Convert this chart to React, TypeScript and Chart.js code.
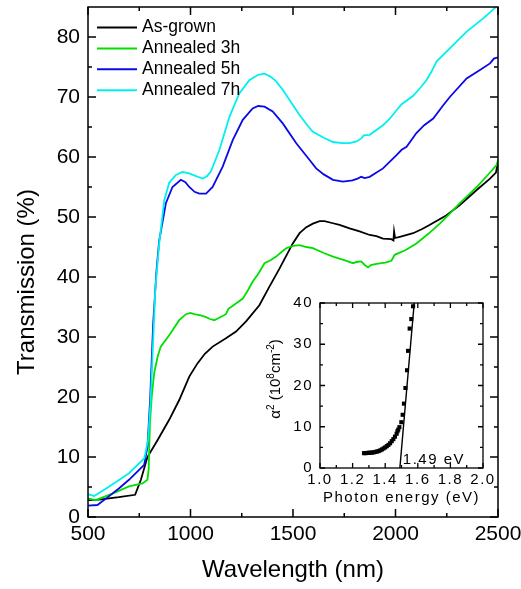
import { useEffect, useRef } from "react";
import { Chart, registerables } from "chart.js";

Chart.register(...registerables);

const FONT = "'Liberation Sans', Arial, Helvetica, sans-serif";

// ---- Transmission spectra ----
const seriesLabels = ["As-grown", "Annealed 3h", "Annealed 5h", "Annealed 7h"];
const seriesColors = ["#000000", "#00e000", "#0a0ae6", "#00f0f0"];

const asGrownNm = [500, 554, 650, 730, 758, 790, 839, 896, 945, 994, 1034, 1070, 1108, 1173, 1222, 1271, 1336, 1385, 1434, 1499, 1532, 1565, 1597, 1630, 1654, 1690, 1727, 1776, 1825, 1874, 1907, 1939, 1980, 1990, 1993, 1998, 2021, 2086, 2130, 2168, 2249, 2314, 2396, 2461, 2490, 2500];
const asGrownT = [2.8, 2.9, 3.3, 3.7, 6.2, 10.0, 12.8, 16.2, 19.5, 23.4, 25.6, 27.2, 28.4, 29.8, 30.9, 32.6, 35.3, 38.4, 41.4, 45.6, 47.3, 48.3, 48.9, 49.3, 49.3, 49.0, 48.7, 48.1, 47.6, 47.0, 46.8, 46.4, 46.3, 46.1, 47.6, 46.5, 46.7, 47.3, 48.0, 48.7, 50.3, 52.0, 54.5, 56.4, 57.4, 59.2];

const annealed3Nm = [500, 537, 619, 700, 766, 790, 796, 802, 812, 823, 840, 855, 896, 945, 978, 1000, 1018, 1050, 1076, 1095, 1116, 1140, 1173, 1185, 1198, 1230, 1255, 1280, 1303, 1330, 1361, 1390, 1418, 1445, 1467, 1500, 1532, 1565, 1597, 1650, 1695, 1750, 1793, 1810, 1833, 1850, 1866, 1880, 1907, 1950, 1980, 1996, 2050, 2102, 2160, 2216, 2260, 2314, 2360, 2396, 2450, 2494, 2500];
const annealed3T = [3.1, 2.8, 3.9, 5.1, 5.6, 6.2, 8.0, 15.6, 20.5, 24.0, 26.8, 28.4, 30.3, 32.8, 33.8, 34.0, 33.8, 33.6, 33.3, 33.0, 32.8, 33.2, 33.8, 34.7, 35.0, 35.8, 36.4, 37.8, 39.2, 40.5, 42.3, 42.8, 43.4, 44.2, 44.8, 45.2, 45.3, 45.0, 44.8, 44.0, 43.4, 42.8, 42.3, 42.5, 42.6, 42.0, 41.6, 42.0, 42.2, 42.4, 42.7, 43.7, 44.5, 45.6, 47.2, 48.9, 50.4, 52.3, 53.8, 55.0, 57.0, 58.7, 59.5];

const annealed5Nm = [500, 546, 600, 652, 700, 774, 790, 803, 818, 834, 847, 880, 912, 953, 975, 994, 1020, 1043, 1076, 1108, 1157, 1206, 1255, 1303, 1330, 1361, 1401, 1450, 1516, 1581, 1613, 1650, 1695, 1744, 1790, 1815, 1833, 1850, 1874, 1939, 2005, 2030, 2054, 2102, 2140, 2184, 2230, 2265, 2347, 2412, 2461, 2480, 2500];
const annealed5T = [1.9, 2.0, 3.4, 4.8, 6.2, 8.7, 11.7, 19.5, 32.3, 41.0, 46.0, 52.3, 55.0, 56.2, 55.8, 55.0, 54.2, 53.9, 53.9, 55.0, 58.4, 62.8, 66.2, 68.1, 68.5, 68.4, 67.6, 65.6, 62.3, 59.5, 58.1, 57.1, 56.2, 55.9, 56.1, 56.4, 56.7, 56.5, 56.7, 58.1, 60.3, 61.2, 61.7, 64.0, 65.3, 66.4, 68.5, 70.0, 73.1, 74.5, 75.6, 76.4, 76.6];

const annealed7Nm = [500, 530, 600, 700, 775, 793, 805, 815, 828, 847, 872, 896, 929, 960, 990, 1027, 1059, 1080, 1100, 1141, 1190, 1238, 1287, 1330, 1361, 1390, 1418, 1450, 1483, 1532, 1565, 1597, 1650, 1695, 1740, 1776, 1810, 1833, 1845, 1874, 1939, 1970, 2005, 2030, 2086, 2120, 2151, 2175, 2200, 2265, 2347, 2428, 2500];
const annealed7T = [3.8, 3.5, 5.0, 7.3, 9.8, 12.8, 19.0, 27.0, 37.8, 45.5, 52.8, 55.7, 57.0, 57.5, 57.3, 56.8, 56.4, 56.8, 57.6, 61.2, 66.7, 70.6, 72.8, 73.7, 73.9, 73.4, 72.6, 71.2, 69.5, 67.0, 65.5, 64.2, 63.2, 62.5, 62.3, 62.3, 62.6, 63.1, 63.6, 63.7, 65.3, 66.3, 67.8, 68.8, 70.2, 71.5, 72.8, 74.2, 75.9, 78.1, 80.9, 83.1, 85.3];

const wavelengthSets = [asGrownNm, annealed3Nm, annealed5Nm, annealed7Nm];
const transmissionSets = [asGrownT, annealed3T, annealed5T, annealed7T];

const xTicks = [500, 1000, 1500, 2000, 2500];
const xMinorTicks = [750, 1250, 1750, 2250];
const yTicks = [0, 10, 20, 30, 40, 50, 60, 70, 80];
const yMinorTicks = [5, 15, 25, 35, 45, 55, 65, 75];

// ---- Inset: alpha^2 vs photon energy ----
const photonEnergy = [1.27, 1.28, 1.29, 1.30, 1.31, 1.32, 1.33, 1.34, 1.35, 1.36, 1.37, 1.38, 1.39, 1.40, 1.41, 1.42, 1.43, 1.44, 1.45, 1.46, 1.47, 1.475, 1.48, 1.487, 1.499, 1.507, 1.515, 1.524, 1.534, 1.540, 1.550, 1.560, 1.571];
const alphaSquared = [3.6, 3.6, 3.65, 3.7, 3.7, 3.75, 3.8, 3.9, 4.0, 4.1, 4.3, 4.5, 4.75, 5.0, 5.3, 5.6, 6.0, 6.5, 7.0, 7.6, 8.3, 8.9, 9.3, 9.9, 11.1, 12.9, 15.6, 19.4, 23.7, 28.4, 33.8, 36.1, 39.2];
const fitEnergy = [1.49, 1.578];
const fitAlphaSquared = [0, 40];
const bandGapEv = 1.49;

const insetXTicks = [1.0, 1.2, 1.4, 1.6, 1.8, 2.0];
const insetXMinorTicks = [1.1, 1.3, 1.5, 1.7, 1.9];
const insetYTicks = [0, 10, 20, 30, 40];
const insetYMinorTicks = [5, 15, 25, 35];

// Box frame with inward major/minor ticks on all four sides
const frameTicks = {
  id: "frameTicks",
  afterDatasetsDraw(chart: any, _args: any, o: any) {
    const { ctx, chartArea: a } = chart;
    const xs = chart.scales.x;
    const ys = chart.scales.y;
    ctx.save();
    ctx.strokeStyle = "#000";
    ctx.lineWidth = o.lineWidth;
    ctx.beginPath();
    const onX = (vals: number[], len: number) => {
      for (const v of vals) {
        const p = xs.getPixelForValue(v);
        ctx.moveTo(p, a.bottom);
        ctx.lineTo(p, a.bottom - len);
        ctx.moveTo(p, a.top);
        ctx.lineTo(p, a.top + len);
      }
    };
    const onY = (vals: number[], len: number) => {
      for (const v of vals) {
        const p = ys.getPixelForValue(v);
        ctx.moveTo(a.left, p);
        ctx.lineTo(a.left + len, p);
        ctx.moveTo(a.right, p);
        ctx.lineTo(a.right - len, p);
      }
    };
    onX(o.xMajor, o.major);
    onX(o.xMinor, o.minor);
    onY(o.yMajor, o.major);
    onY(o.yMinor, o.minor);
    ctx.stroke();
    ctx.strokeRect(a.left, a.top, a.right - a.left, a.bottom - a.top);
    ctx.restore();
  },
};

// Legend drawn inside the plot area
const insideLegend = {
  id: "insideLegend",
  afterDraw(chart: any, _args: any, o: any) {
    if (!o || !o.display) return;
    const { ctx } = chart;
    ctx.save();
    ctx.font = `${o.size}px ${FONT}`;
    ctx.textBaseline = "middle";
    ctx.textAlign = "left";
    chart.data.datasets.forEach((ds: any, i: number) => {
      const y = o.y + i * o.step;
      ctx.strokeStyle = ds.borderColor;
      ctx.lineWidth = 2;
      ctx.beginPath();
      ctx.moveTo(o.x, y);
      ctx.lineTo(o.x + o.lineLength, y);
      ctx.stroke();
      ctx.fillStyle = "#000";
      ctx.fillText(ds.label, o.x + o.lineLength + o.gap, y);
    });
    ctx.restore();
  },
};

// Rotated side title made of plain and superscript pieces
const sideTitle = {
  id: "sideTitle",
  afterDraw(chart: any, _args: any, o: any) {
    if (!o || !o.parts) return;
    const { ctx } = chart;
    ctx.save();
    ctx.letterSpacing = "0px";
    ctx.fillStyle = "#000";
    ctx.textBaseline = "alphabetic";
    ctx.textAlign = "left";
    const supSize = Math.round(o.size * 0.65);
    const widthOf = (p: any) => {
      ctx.font = `${p.sup ? supSize : o.size}px ${FONT}`;
      return ctx.measureText(p.t).width;
    };
    const total = o.parts.reduce((s: number, p: any) => s + widthOf(p), 0);
    ctx.translate(o.x, o.y);
    ctx.rotate(-Math.PI / 2);
    let cx = -total / 2;
    const base = o.size * 0.35;
    for (const p of o.parts) {
      ctx.font = `${p.sup ? supSize : o.size}px ${FONT}`;
      ctx.fillText(p.t, cx, p.sup ? base - o.size * 0.42 : base);
      cx += ctx.measureText(p.t).width;
    }
    ctx.restore();
  },
};

// Letter spacing for the inset's lettering
const spacedText = {
  id: "spacedText",
  beforeDraw(chart: any, _args: any, o: any) {
    chart.ctx.letterSpacing = o && o.spacing ? o.spacing : "0px";
  },
};

// Band-gap value written next to the fitted line
const gapNote = {
  id: "gapNote",
  afterDraw(chart: any, _args: any, o: any) {
    if (!o || !o.text) return;
    const { ctx } = chart;
    ctx.save();
    ctx.letterSpacing = "1.5px";
    ctx.font = `${o.size}px ${FONT}`;
    ctx.fillStyle = "#000";
    ctx.textAlign = "left";
    ctx.textBaseline = "middle";
    ctx.fillText(o.text, chart.scales.x.getPixelForValue(o.x), chart.scales.y.getPixelForValue(o.y));
    ctx.restore();
  },
};

const noGrid = { display: false, drawTicks: false };
const noBorder = { display: false };

const fixHeight = (h: number) => (s: any) => {
  s.height = h;
  s.paddingLeft = 0;
  s.paddingRight = 0;
  s.paddingTop = 0;
  s.paddingBottom = 0;
};
const fixWidth = (w: number) => (s: any) => {
  s.width = w;
  s.paddingLeft = 0;
  s.paddingRight = 0;
  s.paddingTop = 0;
  s.paddingBottom = 0;
};
const plainNumber = (v: number) => String(v);

function mainConfig(): any {
  return {
    type: "line",
    data: {
      datasets: seriesLabels.map((label, i) => ({
        label,
        data: wavelengthSets[i].map((x, k) => ({ x, y: transmissionSets[i][k] })),
        borderColor: seriesColors[i],
        backgroundColor: seriesColors[i],
        borderWidth: 1.8,
        pointRadius: 0,
        tension: 0,
        fill: false,
        order: seriesLabels.length - i,
      })),
    },
    options: {
      responsive: false,
      animation: false,
      devicePixelRatio: 1,
      events: [],
      layout: { padding: { left: 0, top: 7, right: 23, bottom: 0 } },
      plugins: {
        legend: { display: false },
        tooltip: { enabled: false },
        frameTicks: { lineWidth: 1.5, major: 8, minor: 4, xMajor: xTicks, xMinor: xMinorTicks, yMajor: yTicks, yMinor: yMinorTicks },
        insideLegend: { display: true, x: 97, y: 27.5, step: 20.9, lineLength: 40, gap: 5, size: 17.5 },
        sideTitle: { parts: [{ t: "Transmission (%)" }], x: 26, y: 282, size: 24 },
      },
      scales: {
        x: {
          type: "linear",
          min: 500,
          max: 2500,
          afterBuildTicks: (s: any) => { s.ticks = xTicks.map((value) => ({ value })); },
          afterFit: fixHeight(72),
          grid: noGrid,
          border: noBorder,
          ticks: { font: { family: FONT, size: 21 }, color: "#000", padding: 5, autoSkip: false, maxRotation: 0, callback: plainNumber },
          title: { display: true, text: "Wavelength (nm)", color: "#000", font: { family: FONT, size: 24 }, padding: { top: 0, bottom: 4 } },
        },
        y: {
          type: "linear",
          min: 0,
          max: 85,
          afterBuildTicks: (s: any) => { s.ticks = yTicks.map((value) => ({ value })); },
          afterFit: fixWidth(88),
          grid: noGrid,
          border: noBorder,
          ticks: { font: { family: FONT, size: 21 }, color: "#000", padding: 8, autoSkip: false, callback: plainNumber },
        },
      },
    },
    plugins: [frameTicks, insideLegend, sideTitle],
  };
}

function insetConfig(): any {
  return {
    type: "line",
    data: {
      datasets: [
        {
          label: "alpha2",
          data: photonEnergy.map((x, k) => ({ x, y: alphaSquared[k] })),
          showLine: false,
          pointStyle: "rect",
          pointRadius: 2.9,
          pointBorderWidth: 0,
          pointBackgroundColor: "#000",
          borderColor: "#000",
        },
        {
          label: "fit",
          data: fitEnergy.map((x, k) => ({ x, y: fitAlphaSquared[k] })),
          borderColor: "#000",
          borderWidth: 1.4,
          pointRadius: 0,
          tension: 0,
        },
      ],
    },
    options: {
      responsive: false,
      animation: false,
      devicePixelRatio: 1,
      events: [],
      layout: { padding: { left: 0, top: 13, right: 17, bottom: 0 } },
      plugins: {
        legend: { display: false },
        tooltip: { enabled: false },
        spacedText: { spacing: "1.5px" },
        frameTicks: { lineWidth: 1.3, major: 5, minor: 3, xMajor: insetXTicks, xMinor: insetXMinorTicks, yMajor: insetYTicks, yMinor: insetYMinorTicks },
        sideTitle: {
          parts: [{ t: "α" }, { t: "2", sup: true }, { t: " (10" }, { t: "8", sup: true }, { t: "cm" }, { t: "-2", sup: true }, { t: ")" }],
          x: 15,
          y: 89,
          size: 15,
        },
        gapNote: { text: `${bandGapEv.toFixed(2)} eV`, x: 1.508, y: 2.0, size: 15 },
      },
      scales: {
        x: {
          type: "linear",
          min: 1.0,
          max: 2.0,
          afterBuildTicks: (s: any) => { s.ticks = insetXTicks.map((value) => ({ value })); },
          afterFit: fixHeight(47),
          grid: noGrid,
          border: noBorder,
          ticks: { font: { family: FONT, size: 15 }, color: "#000", padding: 3, autoSkip: false, maxRotation: 0, callback: (v: number) => v.toFixed(1) },
          title: { display: true, text: "Photon energy (eV)", color: "#000", font: { family: FONT, size: 15 }, padding: { top: 0, bottom: 8 } },
        },
        y: {
          type: "linear",
          min: 0,
          max: 40,
          afterBuildTicks: (s: any) => { s.ticks = insetYTicks.map((value) => ({ value })); },
          afterFit: fixWidth(60),
          grid: noGrid,
          border: noBorder,
          ticks: { font: { family: FONT, size: 15 }, color: "#000", padding: 7, autoSkip: false, callback: plainNumber },
        },
      },
    },
    plugins: [spacedText, frameTicks, sideTitle, gapNote],
  };
}

export default function App() {
  const mainRef = useRef<HTMLCanvasElement>(null);
  const insetRef = useRef<HTMLCanvasElement>(null);

  useEffect(() => {
    const main = new Chart(mainRef.current as HTMLCanvasElement, mainConfig());
    const inset = new Chart(insetRef.current as HTMLCanvasElement, insetConfig());
    return () => {
      main.destroy();
      inset.destroy();
    };
  }, []);

  return (
    <div style={{ position: "absolute", left: 0, top: 0, width: 521, height: 589, background: "#fff" }}>
      <canvas ref={mainRef} width={521} height={589} style={{ position: "absolute", left: 0, top: 0 }} />
      <canvas ref={insetRef} width={240} height={225} style={{ position: "absolute", left: 260, top: 290 }} />
    </div>
  );
}
